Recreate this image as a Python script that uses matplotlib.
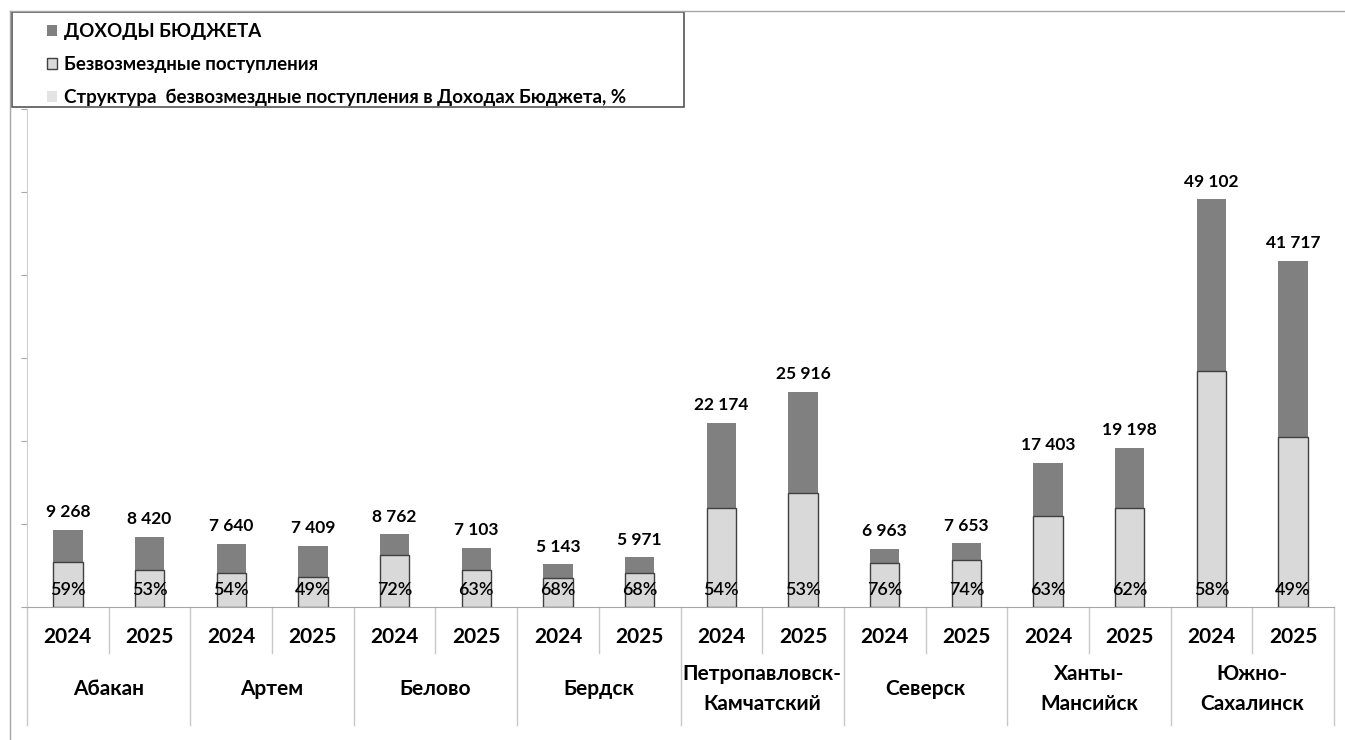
import numpy as np
import matplotlib.pyplot as plt
from matplotlib.lines import Line2D
from matplotlib.patches import Patch, Rectangle

plt.rcParams['font.family'] = ['Lato', 'DejaVu Sans']

# --- Data ---
cities = ['Абакан', 'Артем', 'Белово', 'Бердск', 'Петропавловск-\nКамчатский',
          'Северск', 'Ханты-\nМансийск', 'Южно-\nСахалинск']
years = ['2024', '2025']
income = [9268, 8420, 7640, 7409, 8762, 7103, 5143, 5971,
          22174, 25916, 6963, 7653, 17403, 19198, 49102, 41717]
grants = [5468, 4463, 4126, 3630, 6309, 4475, 3497, 4060,
          11974, 13735, 5292, 5663, 10964, 11903, 28479, 20441]
share = [59, 53, 54, 49, 72, 63, 68, 68, 54, 53, 76, 74, 63, 62, 58, 49]

W, H = 1345, 740
fig = plt.figure(figsize=(W / 100, H / 100), dpi=100)
ax = fig.add_axes([27 / W, 1 - 607 / H, (1334 - 27) / W, (607 - 109) / H])

x = np.arange(len(income))
bw = 0.36
grey = '#a6a6a6'

ax.bar(x, income, width=bw, color='#808080', zorder=2)
ax.bar(x, grants, width=bw, color='#d9d9d9', edgecolor='#404040', linewidth=1, zorder=3)

for xi, v, p in zip(x, income, share):
    ax.annotate(f'{v:,}'.replace(',', ' '), (xi, v), xytext=(0, 7), textcoords='offset points',
                ha='center', va='bottom', fontsize=12.5, fontweight='bold', color='black')
    ax.annotate(f'{p}%', (xi, 0), xytext=(0, 12), textcoords='offset points',
                ha='center', va='center', fontsize=13, fontweight='semibold',
                color='black', zorder=5)

ax.set_xlim(-0.5, len(income) - 0.5)
ax.set_ylim(0, 60000)
ax.set_yticks(np.arange(0, 60001, 10000))
ax.set_yticklabels([])
ax.tick_params(axis='y', length=4, color=grey, direction='out')
ax.set_xticks([])
for s in ['top', 'right']:
    ax.spines[s].set_visible(False)
ax.spines['left'].set_color('#d0d0d0')
ax.spines['bottom'].set_color(grey)

# category axis below the plot
tr = ax.get_xaxis_transform()
px = 1 / (607 - 109)
for i in range(len(income) + 1):
    low = -118 * px if i % 2 == 0 else -46 * px
    ax.plot([i - 0.5, i - 0.5], [0, low], transform=tr, color='#c8c8c8', lw=1, clip_on=False)
for xi in x:
    ax.text(xi, -30 * px, years[xi % 2], transform=tr, ha='center', va='center',
            fontsize=15, fontweight='bold', color='black')
for i, c in enumerate(cities):
    ax.text(2 * i + 0.5, -82 * px, c, transform=tr, ha='center', va='center',
            fontsize=15, fontweight='bold', color='black', linespacing=1.6)

# outer chart border lines
fig.add_artist(Line2D([10 / W, 1], [1 - 11 / H, 1 - 11 / H], color=grey, lw=1))
fig.add_artist(Line2D([10 / W, 10 / W], [0, 1 - 11 / H], color=grey, lw=1))

# legend
fig.add_artist(Rectangle((12 / W, 1 - 107 / H), (684 - 12) / W, (107 - 12) / H,
                         transform=fig.transFigure, fill=False, edgecolor='#555555', lw=1.2))
handles = [Patch(facecolor='#808080', edgecolor='none'),
           Patch(facecolor='#d9d9d9', edgecolor='#404040'),
           Patch(facecolor='#e3e3e3', edgecolor='none')]
labels = ['ДОХОДЫ БЮДЖЕТА', 'Безвозмездные поступления',
          'Структура  безвозмездные поступления в Доходах Бюджета, %']
fig.legend(handles, labels, loc='upper left', bbox_to_anchor=(30 / W, 1 - 6 / H),
           frameon=False, handlelength=0.55, handleheight=0.55, handletextpad=0.35,
           labelspacing=0.85, prop={'weight': 'bold', 'size': 13.5})

fig.savefig('out.png', dpi=100)
